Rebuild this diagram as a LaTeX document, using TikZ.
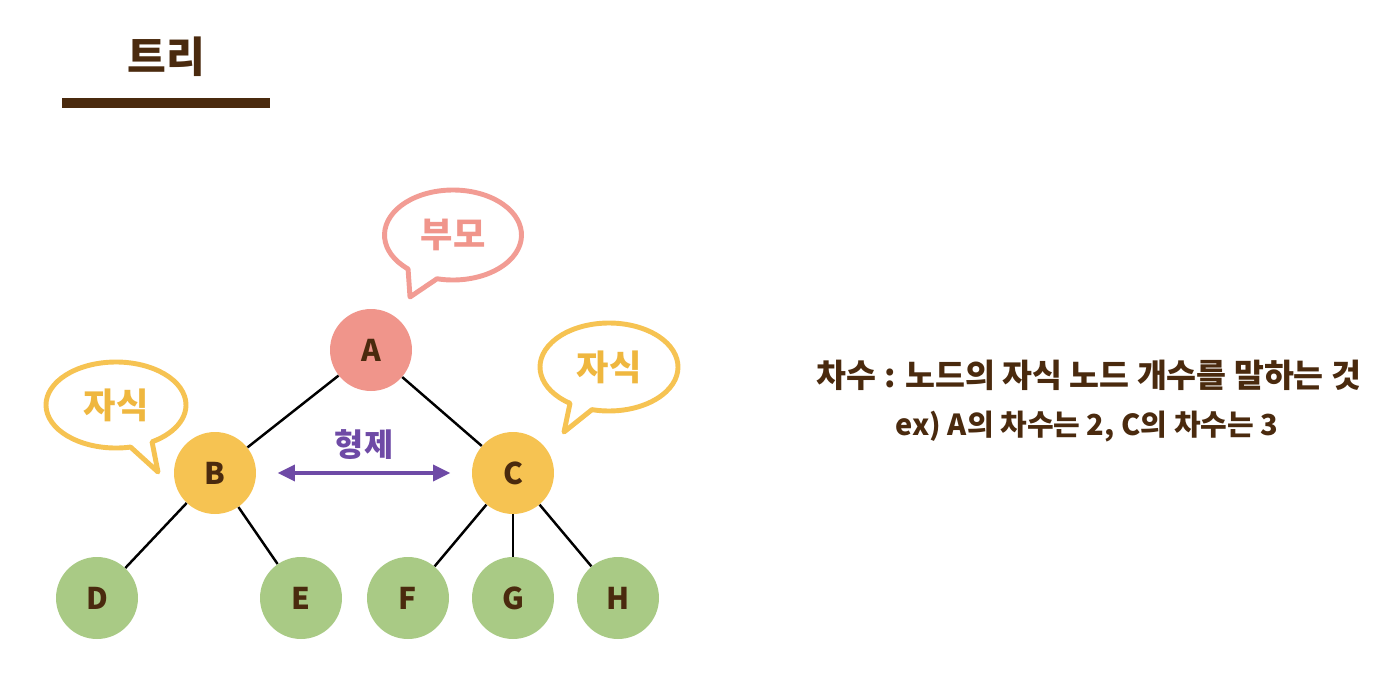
\documentclass[tikz,border=0pt]{standalone}
\usepackage{fontspec}
\setmainfont{Noto Sans CJK KR}
\usetikzlibrary{arrows.meta, positioning}

\definecolor{brownk}{HTML}{4A2A0E}
\definecolor{salmonk}{HTML}{F0958B}
\definecolor{pinkk}{HTML}{F29C94}
\definecolor{yellowk}{HTML}{F6C352}
\definecolor{yellowt}{HTML}{EFB73F}
\definecolor{greenk}{HTML}{A9CA85}
\definecolor{purplek}{HTML}{6E4AA6}

\begin{document}
\begin{tikzpicture}[
  x=0.02cm, y=-0.02cm,
  vtx/.style={circle, minimum size=1.64cm, inner sep=0pt,
              font=\fontsize{17}{17}\selectfont\bfseries, text=brownk},
  root/.style={vtx, fill=salmonk},
  mid/.style={vtx, fill=yellowk},
  leaf/.style={vtx, fill=greenk},
  edge/.style={-, line width=1.4pt, black},
  sib/.style={{Triangle[length=10pt, width=9pt]}-{Triangle[length=10pt, width=9pt]},
              line width=2.3pt, purplek, shorten <=12pt, shorten >=12pt},
  bub/.style={line width=2.8pt, fill=white, line join=round},
  btxt/.style={font=\fontsize{20}{20}\selectfont\bfseries},
]
\useasboundingbox (0,0) rectangle (1386,694);

%% title
\node[font=\fontsize{24}{24}\selectfont\bfseries, text=brownk] (title) at (166,57) {트리};
\fill[brownk] (62,98) rectangle (270,108);

%% tree
\node[root] (a) at (371,350) {A};
\node[mid]  (b) at (215,473) {B};
\node[mid]  (c) at (513,473) {C};
\node[leaf] (d) at (97,598)  {D};
\node[leaf] (e) at (301,598) {E};
\node[leaf] (f) at (408,598) {F};
\node[leaf] (g) at (513,598) {G};
\node[leaf] (h) at (618,598) {H};

\draw[edge] (a) -- (b);
\draw[edge] (a) -- (c);
\draw[edge] (b) -- (d);
\draw[edge] (b) -- (e);
\draw[edge] (c) -- (f);
\draw[edge] (c) -- (g);
\draw[edge] (c) -- (h);

%% siblings
\draw[sib] (b) -- node[above=3pt, font=\fontsize{18}{18}\selectfont\bfseries] (sibl) {형제} (c);

%% speech bubbles
\coordinate (tipp) at (410,297);
\draw[bub, draw=pinkk] (453,235) ++(131:68.5 and 45)
  arc[start angle=131, end angle=463.5, x radius=68.5, y radius=45] -- (tipp) -- cycle;
\node[btxt, text=salmonk] (parent) at (453,235) {부모};

\coordinate (tipl) at (158,472);
\draw[bub, draw=yellowk] (116,405) ++(78:70 and 43)
  arc[start angle=78, end angle=419, x radius=70, y radius=43] -- (tipl) -- cycle;
\node[btxt, text=yellowt] (childl) at (116,405) {자식};

\coordinate (tipr) at (564,432);
\draw[bub, draw=yellowk] (609,367) ++(124.4:69 and 44)
  arc[start angle=124.4, end angle=464.3, x radius=69, y radius=44] -- (tipr) -- cycle;
\node[btxt, text=yellowt] (childr) at (609,367) {자식};

%% degree
\node[font=\fontsize{18.5}{18.5}\selectfont\bfseries, text=brownk] (deg) at (1089,375)
  {차수 : 노드의 자식 노드 개수를 말하는 것};
\node[font=\fontsize{16.5}{16.5}\selectfont\bfseries, text=brownk] (ex) at (1087,427)
  {ex) A의 차수는 2, C의 차수는 3};
\end{tikzpicture}
\end{document}
